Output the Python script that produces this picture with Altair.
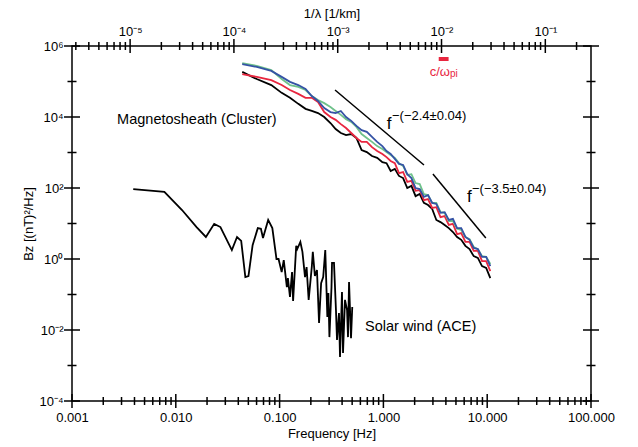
import altair as alt
import pandas as pd

# ---------------- data (log10 units) ----------------
ace_logf = [-2.41, -2.11, -1.94, -1.80, -1.71, -1.63, -1.57, -1.46, -1.41, -1.37,
            -1.33, -1.30, -1.26, -1.21, -1.18, -1.16, -1.11, -1.07, -1.03, -1.01,
            -0.98, -0.96, -0.93, -0.92, -0.90, -0.88, -0.87, -0.84, -0.83, -0.80,
            -0.78, -0.755, -0.74, -0.72, -0.69, -0.68, -0.66, -0.64, -0.62, -0.60,
            -0.58, -0.56, -0.54, -0.53, -0.52, -0.50, -0.495, -0.476, -0.457, -0.447,
            -0.428, -0.418, -0.399, -0.389, -0.37, -0.35, -0.341, -0.331, -0.312, -0.30]
ace_logp = [1.97, 1.89, 1.38, 0.90, 0.62, 0.99, 0.90, 0.25, 0.62, 0.51,
            -0.51, -0.48, 0.39, 0.87, 0.85, 0.59, 1.10, 0.87, 0.0, 0.0,
            -0.37, -0.03, -0.79, -0.54, -1.07, -0.37, -1.18, 0.37, 0.28, 0.48,
            0.20, -0.51, -0.23, -1.15, -0.23, 0.20, -0.48, -0.31, -1.80, -0.68,
            -0.51, 0.25, -1.63, -0.96, -2.20, -0.79, -0.11, -0.11, -1.44, -2.28,
            -1.52, -2.76, -0.93, -2.65, -1.15, -1.44, -2.20, -0.65, -2.23, -1.35]

cl_logf = [-1.36, -1.22, -1.08, -0.98, -0.90, -0.82, -0.75, -0.69, -0.63, -0.57,
           -0.51, -0.46, -0.41, -0.36, -0.31, -0.26, -0.21, -0.16, -0.11, -0.06,
           -0.01, 0.03, 0.07, 0.11, 0.15, 0.19, 0.23, 0.27, 0.31, 0.35,
           0.39, 0.43, 0.47, 0.51, 0.55, 0.59, 0.63, 0.67, 0.71, 0.75,
           0.79, 0.83, 0.87, 0.91, 0.95, 0.99, 1.03]
cl_black = [5.27, 5.07, 4.90, 4.68, 4.54, 4.37, 4.23, 4.17, 4.11, 4.00,
            3.83, 3.66, 3.55, 3.49, 3.52, 3.41, 3.07, 3.01, 2.90, 2.85,
            2.73, 2.70, 2.48, 2.54, 2.34, 2.28, 2.00, 2.06, 1.77, 1.83,
            1.58, 1.52, 1.41, 1.10, 1.04, 0.96, 0.87, 0.76, 0.62, 0.54,
            0.37, 0.28, 0.08, 0.03, -0.20, -0.25, -0.54]
cl_red = [5.21, 5.13, 5.04, 4.90, 4.76, 4.65, 4.54, 4.54, 4.42, 4.14,
          4.00, 3.92, 3.80, 3.69, 3.55, 3.41, 3.30, 3.30, 3.15, 3.04,
          2.96, 2.87, 2.76, 2.70, 2.42, 2.45, 2.17, 2.20, 1.92, 1.94,
          1.66, 1.69, 1.44, 1.46, 1.18, 1.21, 0.96, 0.99, 0.70, 0.73,
          0.48, 0.48, 0.23, 0.23, -0.06, -0.06, -0.34]
cl_green = [5.52, 5.44, 5.32, 5.07, 4.90, 4.85, 4.76, 4.59, 4.48, 4.39,
            4.28, 4.17, 4.06, 3.94, 3.86, 3.72, 3.52, 3.41, 3.30, 3.18,
            3.10, 3.01, 2.93, 2.85, 2.70, 2.62, 2.37, 2.39, 2.14, 2.11,
            1.83, 1.80, 1.58, 1.58, 1.32, 1.30, 1.07, 1.07, 0.85, 0.82,
            0.62, 0.56, 0.34, 0.28, 0.08, 0.06, -0.14]
cl_blue = [5.49, 5.41, 5.30, 5.13, 4.99, 4.90, 4.79, 4.59, 4.45, 4.25,
           4.14, 4.11, 4.17, 4.00, 3.89, 3.75, 3.63, 3.58, 3.44, 3.30,
           3.18, 3.04, 2.96, 2.82, 2.68, 2.65, 2.39, 2.28, 2.00, 1.97,
           1.75, 1.80, 1.58, 1.55, 1.30, 1.32, 1.10, 1.13, 0.87, 0.87,
           0.62, 0.54, 0.31, 0.28, 0.06, 0.06, -0.20]

series_colors = ["#000000", "#e8263f", "#6fc28b", "#3553a5"]
series_values = [cl_black, cl_red, cl_green, cl_blue]

fit1_f = [0.342, 2.46]
fit1_p = [5.75e4, 445.0]
fit2_f = [3.0, 9.7]
fit2_p = [248.0, 3.9]

# text annotations (data coordinates)
ann_label = ["Magnetosheath (Cluster)", "Solar wind (ACE)"]
ann_f = [0.00272, 0.665]
ann_p = [8300.0, 0.012]

flab_f = [1.08, 6.38]
flab_p = [6310.0, 56.0]
fsup_label = ["\u2212(\u22122.4\u00b10.04)", "\u2212(\u22123.5\u00b10.04)"]
fsup_f = [1.21, 7.14]
fsup_p = [10700.0, 93.0]

# ion inertial length marker (top axis units: 1/km)
cw_k = [0.0094, 0.0117]
cw_p = 4.3e5
cw_text_k = 0.01205
cw_text_p = 1.86e5

# axes domains
f_domain = [0.001, 100.0]
p_domain = [1e-4, 1e6]
k_domain = [2.755e-6, 0.2755]

FONT = "Liberation Sans"
W, H = 519, 355

SUP = {"0": "\u2070", "1": "\u00b9", "2": "\u00b2", "3": "\u00b3", "4": "\u2074",
       "5": "\u2075", "6": "\u2076", "7": "\u2077", "8": "\u2078", "9": "\u2079", "-": "\u207b"}


def sup(e):
    return "10" + "".join(SUP[c] for c in str(e))


E = "round(log(datum.value)/LN10)"


def decade_ticks(lo, hi, minors=True):
    vals = []
    for e in range(-8, 9):
        for m in (range(1, 10) if minors else [1]):
            v = float(f"{m}e{e}")
            if lo * (1 - 1e-9) <= v <= hi * (1 + 1e-9):
                vals.append(v)
    return vals


def exp_label_expr(exps):
    return " : ".join(f"{E} == {e} ? '{sup(e)}'" for e in exps) + " : ''"


base = dict(domain=False, grid=False, ticks=False,
            labelColor="black", titleColor="black", labelFont=FONT, titleFont=FONT,
            labelFontSize=13, titleFontSize=13, titleFontWeight="normal",
            labelOverlap=False, labelFlush=False, labelBound=False)

f_scale = alt.Scale(type="log", domain=f_domain, nice=False)
p_scale = alt.Scale(type="log", domain=p_domain, nice=False)
k_scale = alt.Scale(type="log", domain=k_domain, nice=False)

f_major = decade_ticks(*f_domain, minors=False)
f_minor = [v for v in decade_ticks(*f_domain) if v not in f_major]
k_major = decade_ticks(*k_domain, minors=False)
k_minor = [v for v in decade_ticks(*k_domain) if v not in k_major]
p_all = decade_ticks(*p_domain, minors=False)
p_major = p_all[::2]
p_minor = p_all[1::2]

# ---- main layer: data, bottom and left axes ----
X = alt.X("f:Q", scale=f_scale,
          axis=alt.Axis(values=f_major, format=".3f", labelPadding=10,
                        title="Frequency [Hz]", titlePadding=3, **base))
Y = alt.Y("P:Q", scale=p_scale,
          axis=alt.Axis(values=p_major, labelExpr=exp_label_expr([6, 4, 2, 0, -2, -4]),
                        labelPadding=9, title="Bz [(nT)\u00b2/Hz]", titlePadding=3, **base))

ace_df = pd.DataFrame({"f": [10 ** v for v in ace_logf], "P": [10 ** v for v in ace_logp]})
ace = alt.Chart(ace_df).mark_line(color="black", strokeWidth=1.8).encode(X, Y)

cluster_layers = []
for col, vals in zip(series_colors, series_values):
    df = pd.DataFrame({"f": [10 ** v for v in cl_logf], "P": [10 ** v for v in vals]})
    cluster_layers.append(alt.Chart(df).mark_line(color=col, strokeWidth=1.8).encode(X, Y))

fit_df = pd.DataFrame({"f": fit1_f + fit2_f, "P": fit1_p + fit2_p,
                       "seg": ["a", "a", "b", "b"]})
fits = alt.Chart(fit_df).mark_line(color="black", strokeWidth=1.5).encode(X, Y, detail="seg:N")

ann_df = pd.DataFrame({"f": ann_f, "P": ann_p, "label": ann_label})
ann = alt.Chart(ann_df).mark_text(align="left", baseline="middle", font=FONT, fontSize=14.5,
                                  color="black").encode(X, Y, text="label:N")
flab_df = pd.DataFrame({"f": flab_f, "P": flab_p, "label": ["f", "f"]})
flab = alt.Chart(flab_df).mark_text(align="left", baseline="middle", font=FONT, fontSize=17,
                                    color="black").encode(X, Y, text="label:N")
fsup_df = pd.DataFrame({"f": fsup_f, "P": fsup_p, "label": fsup_label})
fsup = alt.Chart(fsup_df).mark_text(align="left", baseline="middle", font=FONT, fontSize=13,
                                    color="black").encode(X, Y, text="label:N")


# tick marks centred on the frame lines (the approach that rendered visibly)
def vticks(vals, field, length, y_edge, enc_x):
    df = pd.DataFrame({field: vals})
    return alt.Chart(df).mark_tick(color="black", orient="vertical", size=length,
                                   thickness=1.5, opacity=1).encode(enc_x, y=alt.value(y_edge))


def hticks(vals, length, x_edge):
    df = pd.DataFrame({"P": vals})
    return alt.Chart(df).mark_tick(color="black", orient="horizontal", size=length,
                                   thickness=1.5, opacity=1).encode(Y, x=alt.value(x_edge))


main = alt.layer(ace, *cluster_layers, fits, ann, flab, fsup,
                 vticks(f_major, "f", 14, H, X), vticks(f_minor, "f", 8, H, X),
                 hticks(p_major, 16, 0), hticks(p_minor, 9, 0),
                 hticks(p_major, 16, W), hticks(p_minor, 9, W))

# ---- top 1/lambda axis ----
XT = alt.X("k:Q", scale=k_scale,
           axis=alt.Axis(orient="top", values=k_major,
                         labelExpr=exp_label_expr([-6, -5, -4, -3, -2, -1]),
                         labelPadding=8, title="1/\u03bb [1/km]", titlePadding=5, **base))
YR = alt.Y("P:Q", scale=p_scale, axis=None)

cw_df = pd.DataFrame({"k": [cw_k[0]], "k2": [cw_k[1]], "P": [cw_p]})
cw_bar = alt.Chart(cw_df).mark_rule(color="#e8263f", strokeWidth=4).encode(XT, YR, x2="k2:Q")
cw_t1 = alt.Chart(pd.DataFrame({"k": [cw_text_k], "P": [cw_text_p], "label": ["c/\u03c9"]})).mark_text(
    align="right", baseline="middle", font=FONT, fontSize=13, color="#e8263f").encode(XT, YR, text="label:N")
cw_t2 = alt.Chart(pd.DataFrame({"k": [cw_text_k], "P": [cw_text_p], "label": ["pi"]})).mark_text(
    align="left", baseline="middle", font=FONT, fontSize=10, dy=2, color="#e8263f").encode(XT, YR, text="label:N")

top = alt.layer(cw_bar, cw_t1, cw_t2,
                vticks(k_major, "k", 14, 0, XT), vticks(k_minor, "k", 8, 0, XT))

chart = alt.layer(main, top).resolve_scale(
    x="independent", y="independent"
).properties(
    width=W, height=H,
    autosize=alt.AutoSizeParams(type="none"),
    padding={"left": 64, "top": 38, "right": 39, "bottom": 46},
    background="white",
).configure_view(stroke="black", strokeWidth=1.5)

chart.save("out.html", embed_options={"renderer": "svg", "actions": False})
